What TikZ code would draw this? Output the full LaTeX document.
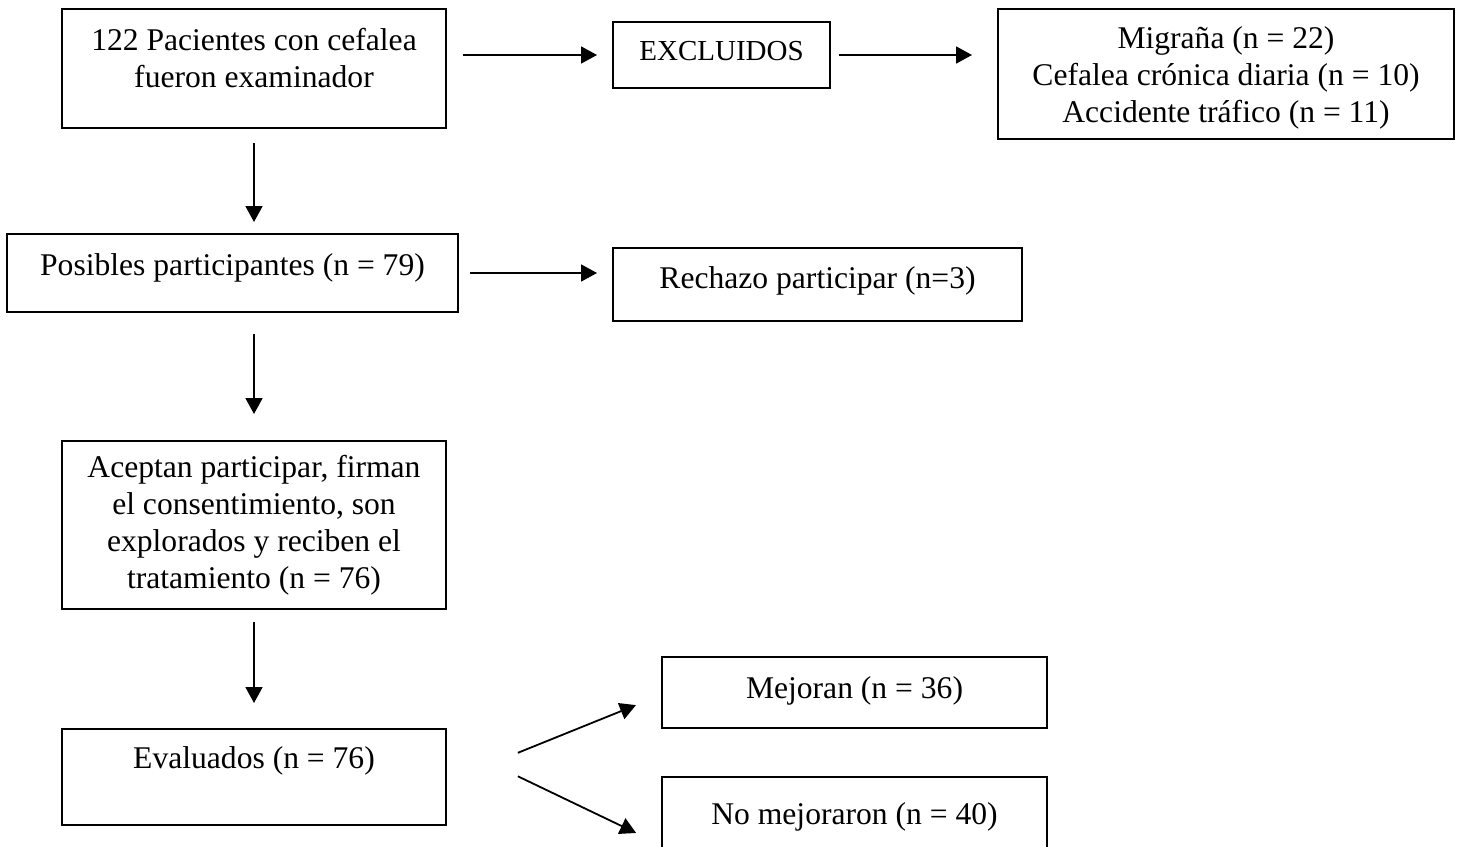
\documentclass[tikz,border=0pt]{standalone}
\usepackage{fontspec}
\setmainfont{Liberation Serif}
\usepackage{tikz}
\usetikzlibrary{arrows.meta,positioning}
\tikzstyle{paso} = [rectangle, draw = black, line width = 1pt, inner sep = 0pt, text centered, align = center, fill = white, font = \fontsize{15.8pt}{18.5pt}\selectfont]
\tikzstyle{arrow} = [line width = 0.9pt,->,>={Triangle[length=8pt,width=8.5pt]}]

\begin{document}
\begin{tikzpicture}[node distance = 126pt]

\useasboundingbox (0,0) rectangle (729.5pt,-423pt);

\node(pacientes) [paso, minimum width = 192pt, minimum height = 59.5pt] at (127pt,-34.25pt) {122 Pacientes con cefalea \\ fueron examinador \\[-7.7pt] \mbox{}};
\node(posibles)  [paso, minimum width = 225.5pt, minimum height = 39pt, text height = 11pt, text depth = 9pt, below of = pacientes, xshift = -10.75pt, yshift = 23.75pt] {Posibles participantes (n = 79)};
\node(aceptan)   [paso, minimum width = 192pt, minimum height = 84pt, below of = posibles, xshift = 10.75pt] {Aceptan participar, firman \\ el consentimiento, son \\ explorados y reciben el \\ tratamiento (n = 76)};
\node(evaluados) [paso, minimum width = 192pt, minimum height = 48pt, text height = 11pt, text depth = 20pt, below of = aceptan] {Evaluados (n = 76)};

\node(excluidos) [paso, minimum width = 108.5pt, minimum height = 33pt, text height = 10pt, text depth = 5pt, font = \fontsize{14.5pt}{17pt}\selectfont, right of = pacientes, xshift = 107.75pt, yshift = 6.75pt] {EXCLUIDOS};
\node(motivos)   [paso, minimum width = 228pt, minimum height = 65pt, right of = excluidos, xshift = 126.25pt, yshift = -9.5pt] {\rule{0pt}{14.5pt}Migraña (n = 22) \\ Cefalea crónica diaria (n = 10) \\ Accidente tráfico (n = 11)};
\node(rechazo)   [paso, minimum width = 204.5pt, minimum height = 36.5pt, text height = 11pt, text depth = 7.5pt, right of = posibles, xshift = 166.5pt, yshift = -5.75pt] {Rechazo participar (n=3)};
\node(mejoran)   [paso, minimum width = 192.5pt, minimum height = 35.5pt, text height = 11pt, text depth = 5.5pt, right of = evaluados, xshift = 174.25pt, yshift = 42.25pt] {Mejoran (n = 36)};
\node(nomejoran) [paso, minimum width = 192.5pt, minimum height = 40pt, text height = 11pt, text depth = 3.5pt, below of = mejoran, yshift = 63.75pt] {No mejoraron (n = 40)};

\draw [arrow, shorten <= 8pt, shorten >= 7.5pt] (pacientes.east |- excluidos) -- (excluidos.west);
\draw [arrow, shorten <= 4pt, shorten >= 12.5pt] (excluidos.east) -- (excluidos.east -| motivos.west);
\draw [arrow, shorten <= 7pt, shorten >= 5.5pt] (pacientes.south) -- (pacientes.south |- posibles.north);
\draw [arrow, shorten <= 5.5pt, shorten >= 7.5pt] (posibles.east) -- (posibles.east -| rechazo.west);
\draw [arrow, shorten <= 10.5pt, shorten >= 13pt] (posibles.south -| aceptan.north) -- (aceptan.north);
\draw [arrow, shorten <= 6pt, shorten >= 12.5pt] (aceptan.south) -- (evaluados.north);
\draw [arrow, shorten <= 38.2pt, shorten >= 13.5pt] ([yshift=-2.2pt]evaluados.east) -- ([yshift=-1.25pt]mejoran.west);
\draw [arrow, shorten <= 39.3pt, shorten >= 13.8pt] ([yshift=17.35pt]evaluados.east) -- ([yshift=-13.95pt]nomejoran.west);

\end{tikzpicture}
\end{document}
